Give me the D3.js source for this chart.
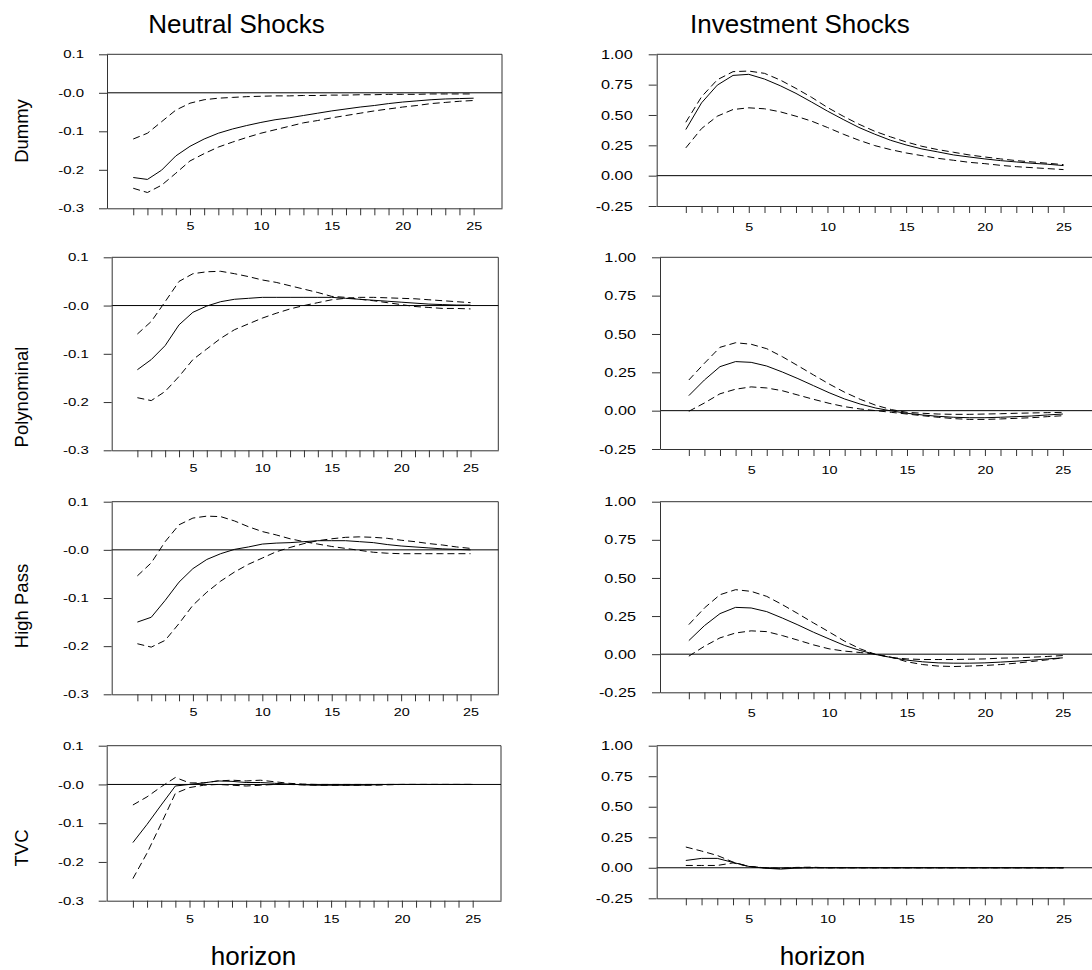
<!DOCTYPE html>
<html>
<head>
<meta charset="utf-8">
<script src="https://cdn.jsdelivr.net/npm/d3@7"></script>
<style>
  body { margin: 0; background: #fff; }
  svg { display: block; font-family: "Liberation Sans", Arial, sans-serif; }
</style>
</head>
<body>
<div id="chart"></div>
<script>
// horizon (x categories) and tick labels
const horizon = [1, 2, 3, 4, 5, 6, 7, 8, 9, 10, 11, 12, 13, 14, 15, 16, 17, 18, 19, 20, 21, 22, 23, 24, 25];
const neutralTicks = [0.1, 0.0, -0.1, -0.2, -0.3];
const investTicks = [1.00, 0.75, 0.50, 0.25, 0.00, -0.25];
const rowNames = ["Dummy", "Polynominal", "High Pass", "TVC"];
const colTitles = ["Neutral Shocks", "Investment Shocks"];

// Dummy
const dummyNeutralMid = [-0.220, -0.225, -0.201, -0.164, -0.139, -0.120, -0.105, -0.094, -0.085, -0.077, -0.070, -0.065, -0.059, -0.053, -0.047, -0.042, -0.037, -0.033, -0.028, -0.024, -0.021, -0.018, -0.016, -0.015, -0.014];
const dummyNeutralUp = [-0.120, -0.105, -0.075, -0.045, -0.027, -0.018, -0.014, -0.012, -0.010, -0.009, -0.008, -0.008, -0.007, -0.007, -0.006, -0.006, -0.005, -0.005, -0.004, -0.004, -0.004, -0.003, -0.003, -0.003, -0.003];
const dummyNeutralLo = [-0.248, -0.259, -0.240, -0.209, -0.177, -0.158, -0.141, -0.128, -0.116, -0.105, -0.096, -0.087, -0.078, -0.072, -0.065, -0.059, -0.053, -0.047, -0.042, -0.037, -0.033, -0.028, -0.025, -0.022, -0.020];
const dummyInvestMid = [0.380, 0.600, 0.746, 0.826, 0.835, 0.796, 0.741, 0.678, 0.606, 0.532, 0.463, 0.397, 0.342, 0.292, 0.253, 0.220, 0.196, 0.171, 0.154, 0.138, 0.124, 0.113, 0.102, 0.094, 0.083];
const dummyInvestUp = [0.440, 0.650, 0.790, 0.857, 0.862, 0.843, 0.788, 0.719, 0.645, 0.562, 0.490, 0.424, 0.366, 0.320, 0.278, 0.242, 0.215, 0.193, 0.171, 0.154, 0.138, 0.124, 0.113, 0.102, 0.091];
const dummyInvestLo = [0.229, 0.388, 0.490, 0.545, 0.559, 0.551, 0.526, 0.490, 0.449, 0.397, 0.342, 0.292, 0.248, 0.215, 0.187, 0.165, 0.143, 0.127, 0.110, 0.099, 0.085, 0.074, 0.066, 0.058, 0.050];

// Polynominal
const polyNeutralMid = [-0.133, -0.112, -0.083, -0.040, -0.014, -0.001, 0.008, 0.013, 0.015, 0.017, 0.017, 0.017, 0.017, 0.017, 0.017, 0.015, 0.013, 0.011, 0.009, 0.007, 0.005, 0.003, 0.002, 0.001, 0.001];
const polyNeutralUp = [-0.059, -0.033, 0.008, 0.050, 0.066, 0.070, 0.071, 0.066, 0.060, 0.053, 0.048, 0.041, 0.034, 0.027, 0.019, 0.017, 0.013, 0.010, 0.006, 0.002, -0.002, -0.004, -0.006, -0.006, -0.007];
const polyNeutralLo = [-0.191, -0.197, -0.178, -0.147, -0.112, -0.090, -0.068, -0.050, -0.038, -0.026, -0.016, -0.007, 0.000, 0.006, 0.012, 0.015, 0.017, 0.017, 0.016, 0.015, 0.014, 0.012, 0.010, 0.008, 0.006];
const polyInvestMid = [0.098, 0.200, 0.287, 0.320, 0.315, 0.291, 0.252, 0.209, 0.163, 0.117, 0.076, 0.043, 0.017, -0.002, -0.017, -0.028, -0.037, -0.043, -0.046, -0.046, -0.043, -0.039, -0.035, -0.028, -0.022];
const polyInvestUp = [0.200, 0.309, 0.413, 0.443, 0.433, 0.404, 0.352, 0.293, 0.233, 0.174, 0.120, 0.074, 0.035, 0.007, -0.011, -0.017, -0.022, -0.024, -0.024, -0.022, -0.020, -0.017, -0.015, -0.013, -0.011];
const polyInvestLo = [-0.004, 0.050, 0.110, 0.140, 0.155, 0.148, 0.130, 0.102, 0.074, 0.048, 0.026, 0.011, 0.000, -0.011, -0.022, -0.033, -0.043, -0.052, -0.057, -0.057, -0.054, -0.050, -0.046, -0.039, -0.033];

// High Pass
const hpNeutralMid = [-0.150, -0.140, -0.105, -0.067, -0.039, -0.020, -0.008, 0.001, 0.006, 0.012, 0.014, 0.015, 0.017, 0.019, 0.019, 0.019, 0.017, 0.015, 0.011, 0.008, 0.006, 0.004, 0.002, 0.001, 0.000];
const hpNeutralUp = [-0.054, -0.027, 0.017, 0.052, 0.066, 0.070, 0.069, 0.060, 0.048, 0.038, 0.031, 0.023, 0.017, 0.012, 0.007, 0.003, -0.001, -0.005, -0.007, -0.008, -0.008, -0.008, -0.008, -0.008, -0.008];
const hpNeutralLo = [-0.195, -0.202, -0.188, -0.153, -0.115, -0.088, -0.065, -0.046, -0.030, -0.017, -0.004, 0.005, 0.013, 0.019, 0.023, 0.026, 0.027, 0.026, 0.024, 0.020, 0.017, 0.013, 0.010, 0.006, 0.003];
const hpInvestMid = [0.089, 0.187, 0.266, 0.307, 0.303, 0.279, 0.237, 0.192, 0.144, 0.100, 0.057, 0.024, -0.002, -0.022, -0.039, -0.050, -0.057, -0.059, -0.059, -0.057, -0.052, -0.046, -0.039, -0.031, -0.024];
const hpInvestUp = [0.194, 0.303, 0.390, 0.423, 0.412, 0.379, 0.325, 0.266, 0.205, 0.146, 0.085, 0.035, -0.002, -0.022, -0.031, -0.035, -0.035, -0.035, -0.033, -0.031, -0.026, -0.024, -0.020, -0.015, -0.009];
const hpInvestLo = [-0.013, 0.052, 0.107, 0.139, 0.153, 0.148, 0.122, 0.092, 0.061, 0.035, 0.020, 0.011, 0.000, -0.020, -0.050, -0.068, -0.078, -0.081, -0.078, -0.074, -0.068, -0.059, -0.048, -0.037, -0.024];

// TVC
const tvcNeutralMid = [-0.150, -0.103, -0.053, -0.004, 0.000, 0.004, 0.009, 0.008, 0.005, 0.005, 0.003, 0.001, -0.001, -0.002, -0.002, -0.002, -0.002, -0.001, 0.000, 0.000, 0.000, 0.000, 0.000, 0.000, 0.000];
const tvcNeutralUp = [-0.053, -0.032, -0.006, 0.018, 0.004, 0.004, 0.009, 0.011, 0.009, 0.011, 0.007, 0.003, 0.001, 0.000, 0.000, 0.000, 0.000, 0.000, 0.000, 0.000, 0.000, 0.000, 0.000, 0.000, 0.000];
const tvcNeutralLo = [-0.243, -0.177, -0.101, -0.023, -0.008, -0.002, 0.000, -0.002, -0.004, -0.002, 0.000, 0.000, -0.001, -0.002, -0.002, -0.002, -0.002, -0.002, -0.001, 0.000, 0.000, 0.000, 0.000, 0.000, 0.000];
const tvcInvestMid = [0.060, 0.077, 0.077, 0.044, 0.011, -0.003, -0.011, -0.003, 0.000, 0.000, 0.000, 0.000, 0.000, 0.000, 0.000, 0.000, 0.000, 0.000, 0.000, 0.000, 0.000, 0.000, 0.000, 0.000, 0.000];
const tvcInvestUp = [0.170, 0.137, 0.101, 0.047, 0.011, 0.000, -0.005, 0.003, 0.005, 0.000, 0.000, 0.000, 0.000, 0.000, 0.000, 0.000, 0.000, 0.000, 0.000, 0.000, 0.000, 0.000, 0.000, 0.000, 0.000];
const tvcInvestLo = [0.019, 0.019, 0.019, 0.040, 0.011, 0.000, -0.005, 0.000, 0.000, 0.000, 0.000, 0.000, 0.000, 0.000, 0.000, 0.000, 0.000, 0.000, 0.000, 0.000, 0.000, 0.000, 0.000, 0.000, 0.000];

const series = [
  [[dummyNeutralMid, dummyNeutralUp, dummyNeutralLo], [dummyInvestMid, dummyInvestUp, dummyInvestLo]],
  [[polyNeutralMid, polyNeutralUp, polyNeutralLo], [polyInvestMid, polyInvestUp, polyInvestLo]],
  [[hpNeutralMid, hpNeutralUp, hpNeutralLo], [hpInvestMid, hpInvestUp, hpInvestLo]],
  [[tvcNeutralMid, tvcNeutralUp, tvcNeutralLo], [tvcInvestMid, tvcInvestUp, tvcInvestLo]]
];

// layout: plot frame [left, top, right, bottom] per row / column
const boxes = [
  [[107, 54.3, 502, 208.3], [656.7, 54.3, 1095, 206]],
  [[111.7, 257.3, 498.3, 450.3], [660, 257.3, 1094, 449]],
  [[111.7, 501.7, 498.3, 694.3], [660, 501.7, 1094, 692.3]],
  [[106.7, 745.7, 501, 900.7], [656.7, 745.7, 1095, 898.3]]
];
const rowLabelY = [131, 397, 606, 848];
const xDomain = [-0.85, 27.0];

const width = 1092, height = 970;

const svg = d3.select('#chart')
  .append('svg')
  .attr('width', width)
  .attr('height', height);

// stretch glyphs horizontally like the original export
function stretch(sel, k) {
  sel.selectAll('text').each(function () {
    const w = this.getComputedTextLength();
    if (w > 0) d3.select(this).attr('textLength', w * k).attr('lengthAdjust', 'spacingAndGlyphs');
  });
}

series.forEach((rowSeries, r) => {
  rowSeries.forEach((lines, c) => {
    const [left, top, right, bottom] = boxes[r][c];
    const g = svg.append('g');

    const x = d3.scaleLinear().domain(xDomain).range([left, right]);
    const y = d3.scaleLinear()
      .domain(c === 0 ? [-0.3, 0.1] : [-0.25, 1.0])
      .range([bottom, top]);

    // top and right of frame
    g.append('line')
      .attr('x1', left).attr('x2', right).attr('y1', top).attr('y2', top)
      .attr('stroke', '#333');
    g.append('line')
      .attr('x1', right).attr('x2', right).attr('y1', top).attr('y2', bottom)
      .attr('stroke', '#333');

    // zero line
    g.append('line')
      .attr('x1', left).attr('x2', right).attr('y1', y(0)).attr('y2', y(0))
      .attr('stroke', '#000');

    const yAxis = d3.axisLeft(y)
      .tickValues(c === 0 ? neutralTicks : investTicks)
      .tickSize(8)
      .tickSizeOuter(0)
      .tickPadding(c === 0 ? 15 : 16)
      .tickFormat(d => c === 0 ? d.toFixed(1).replace(/^0\.0$/, '-0.0') : d.toFixed(2));

    const ya = g.append('g')
      .attr('transform', `translate(${left},0)`)
      .call(yAxis);
    ya.selectAll('path, line').attr('stroke', '#333');
    ya.selectAll('text')
      .attr('font-family', '"Liberation Sans", Arial, sans-serif')
      .attr('font-size', c === 0 ? 11.5 : 13)
      .attr('fill', '#000');
    stretch(ya, c === 0 ? 1.3 : 1.25);

    const xAxis = d3.axisBottom(x)
      .tickValues(horizon)
      .tickSize(7)
      .tickSizeOuter(0)
      .tickPadding(c === 0 ? 7 : 10)
      .tickFormat(d => d % 5 === 0 ? d : '');

    const xa = g.append('g')
      .attr('transform', `translate(0,${bottom})`)
      .call(xAxis);
    xa.selectAll('path, line').attr('stroke', '#333');
    xa.selectAll('text')
      .attr('font-family', '"Liberation Sans", Arial, sans-serif')
      .attr('font-size', 11.5)
      .attr('fill', '#000');
    stretch(xa, 1.25);

    const line = d3.line()
      .x((d, i) => x(horizon[i]))
      .y(d => y(d));

    lines.forEach((vals, k) => {
      g.append('path')
        .datum(vals)
        .attr('fill', 'none')
        .attr('stroke', '#000')
        .attr('stroke-width', 1)
        .attr('stroke-dasharray', k === 0 ? null : '7,4')
        .attr('d', line);
    });
  });
});

// column titles
svg.append('text')
  .attr('x', 236.5).attr('y', 33)
  .attr('text-anchor', 'middle')
  .attr('font-size', 26)
  .text(colTitles[0]);
svg.append('text')
  .attr('x', 690).attr('y', 33)
  .attr('text-anchor', 'start')
  .attr('font-size', 26)
  .text(colTitles[1]);

// row labels
rowNames.forEach((name, r) => {
  svg.append('text')
    .attr('transform', `translate(28,${rowLabelY[r]}) rotate(-90)`)
    .attr('text-anchor', 'middle')
    .attr('font-size', 18.5)
    .text(name);
});

// x axis titles
svg.append('text')
  .attr('x', 253.5).attr('y', 965)
  .attr('text-anchor', 'middle')
  .attr('font-size', 26)
  .text('horizon');
svg.append('text')
  .attr('x', 822.5).attr('y', 965)
  .attr('text-anchor', 'middle')
  .attr('font-size', 26)
  .text('horizon');
</script>
</body>
</html>
